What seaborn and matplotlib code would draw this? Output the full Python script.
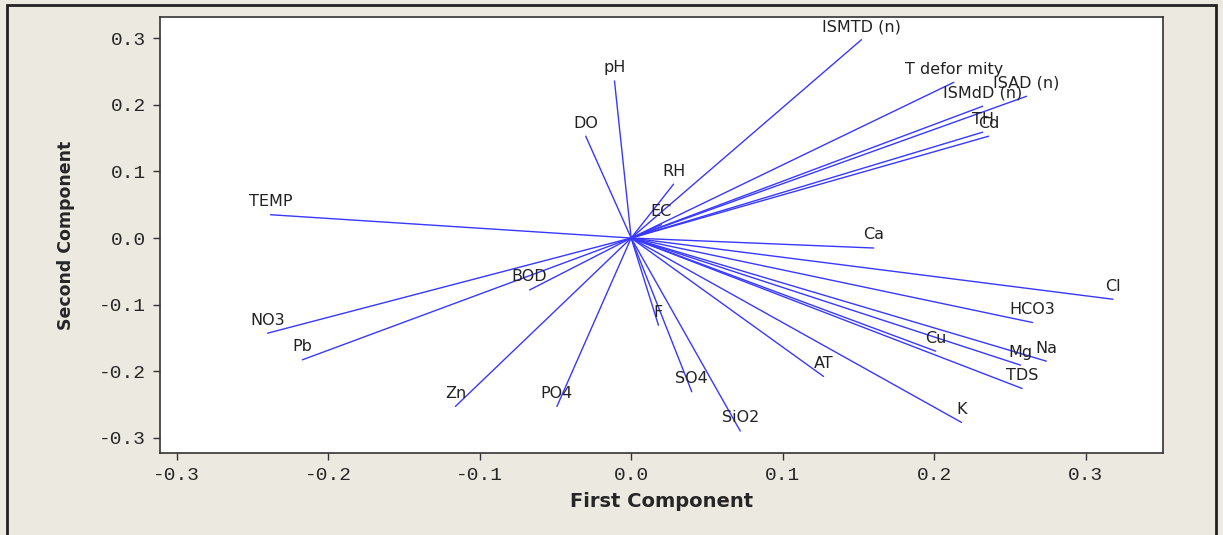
"""PCA loading plot: first vs second component."""
import matplotlib.pyplot as plt
import matplotlib.patches as mpatches
import numpy as np
import pandas as pd
import seaborn as sns

variables = [
    "TEMP", "pH", "DO", "RH", "EC", "ISMTD (n)", "T defor mity", "ISAD (n)",
    "ISMdD (n)", "TH", "Cd", "Ca", "Cl", "HCO3", "Na", "Mg", "TDS", "Cu",
    "K", "AT", "SiO2", "SO4", "F", "PO4", "Zn", "BOD", "NO3", "Pb",
]
first_component = [
    -0.238, -0.011, -0.030, 0.028, 0.020, 0.152, 0.213, 0.261,
    0.232, 0.232, 0.236, 0.160, 0.318, 0.265, 0.274, 0.257, 0.258, 0.201,
    0.218, 0.127, 0.072, 0.040, 0.018, -0.049, -0.116, -0.067, -0.240, -0.217,
]
second_component = [
    0.035, 0.236, 0.153, 0.081, 0.020, 0.298, 0.234, 0.213,
    0.198, 0.159, 0.153, -0.015, -0.092, -0.127, -0.185, -0.191, -0.226, -0.170,
    -0.277, -0.208, -0.290, -0.231, -0.131, -0.253, -0.253, -0.078, -0.143, -0.183,
]

x_ticks = [-0.3, -0.2, -0.1, 0.0, 0.1, 0.2, 0.3]
y_ticks = [-0.3, -0.2, -0.1, 0.0, 0.1, 0.2, 0.3]

BG = "#ECE9E0"
LINE = "#3838FF"

# long table: each variable is a segment from the origin to its loading
rows = []
for name, x, y in zip(variables, first_component, second_component):
    rows.append({"var": name, "pc1": 0.0, "pc2": 0.0})
    rows.append({"var": name, "pc1": x, "pc2": y})
df = pd.DataFrame(rows)

sns.set_theme(style="ticks")
plt.rcParams["font.family"] = ["DejaVu Sans"]

fig = plt.figure(figsize=(12.23, 5.35), dpi=100, facecolor=BG)
ax = fig.add_axes([0.1308, 0.1533, 0.8201, 0.8148])
ax.set_facecolor("white")

sns.lineplot(
    data=df, x="pc1", y="pc2", units="var", estimator=None, sort=False,
    color=LINE, linewidth=1.0, ax=ax, legend=False,
)

for name, x, y in zip(variables, first_component, second_component):
    ax.annotate(
        name, (x, y), xytext=(0, 4), textcoords="offset points",
        ha="center", va="bottom", fontsize=11.5, color="#222222",
        family="DejaVu Sans",
    )

ax.set_xlim(-0.311, 0.351)
ax.set_ylim(-0.323, 0.332)
ax.set_xticks(x_ticks)
ax.set_yticks(y_ticks)
ax.set_xticklabels([f"{t:.1f}" for t in x_ticks], family="Liberation Mono",
                   fontsize=14)
ax.set_yticklabels([f"{t:.1f}" for t in y_ticks], family="Liberation Mono",
                   fontsize=14)
ax.tick_params(direction="out", length=5, width=1, color="#333333", pad=5)

for side in ax.spines.values():
    side.set_color("#333333")
    side.set_linewidth(1.2)

ax.set_xlabel("First Component", fontsize=14, fontweight="bold", labelpad=6)
ax.set_ylabel("Second Component", fontsize=12.5, fontweight="bold", labelpad=17)

# outer window frame
fig.patches.append(mpatches.Rectangle(
    (0.006, -0.01), 0.988, 1.0, transform=fig.transFigure, fill=False,
    edgecolor="#222222", linewidth=2.0,
))

fig.savefig("out.png", dpi=100, facecolor=BG)
